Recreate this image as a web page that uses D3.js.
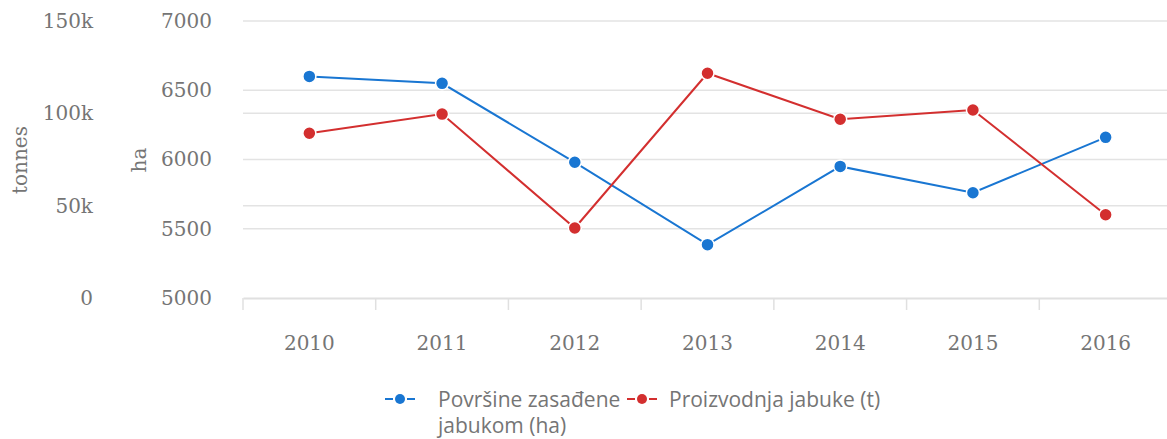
<!DOCTYPE html>
<html>
<head>
<meta charset="utf-8">
<script src="https://cdn.jsdelivr.net/npm/d3@7"></script>
<style>
  body { margin: 0; background: #fff; }
  svg { display: block; }
</style>
</head>
<body>
<script>
var years = ["2010", "2011", "2012", "2013", "2014", "2015", "2016"];
var areaHa = [6600, 6550, 5980, 5385, 5950, 5760, 6160];
var prodT = [89200, 99600, 37900, 121700, 96800, 101800, 45100];
var haTicks = [5000, 5500, 6000, 6500, 7000];
var tTicks = [0, 50000, 100000, 150000];
var tLabels = ["0", "50k", "100k", "150k"];

var W = 1167, H = 439;
var plotTop = 21, plotBottom = 298, plotLeft = 243, plotRight = 1172;

var svg = d3.select("body").append("svg")
  .attr("width", W).attr("height", H);

var x = d3.scaleBand().domain(years).range([plotLeft, plotRight]);
var yHa = d3.scaleLinear().domain([5000, 7000]).range([plotBottom, plotTop]);
var yT = d3.scaleLinear().domain([0, 150000]).range([plotBottom, plotTop]);

var axisFont = "'DejaVu Serif', serif";
var grey = "#757575";

// gridlines
var grid = svg.append("g");
grid.selectAll(".gh").data(haTicks.slice(1)).enter().append("line")
  .attr("x1", plotLeft).attr("x2", W)
  .attr("y1", d => yHa(d)).attr("y2", d => yHa(d))
  .attr("stroke", "#e3e3e3").attr("stroke-width", 1.5);
grid.selectAll(".gt").data(tTicks.slice(1, 3)).enter().append("line")
  .attr("x1", plotLeft).attr("x2", W)
  .attr("y1", d => yT(d)).attr("y2", d => yT(d))
  .attr("stroke", "#e3e3e3").attr("stroke-width", 1.5);

// x axis
var xAxis = svg.append("g").attr("transform", "translate(0," + plotBottom + ")")
  .call(d3.axisBottom(x).tickSize(0).tickPadding(38));
xAxis.select(".domain").attr("stroke", "#e0e0e0").attr("stroke-width", 2);
xAxis.selectAll(".sep").data(years.concat(["end"])).enter().append("line")
  .attr("x1", (d, i) => plotLeft + i * x.step()).attr("x2", (d, i) => plotLeft + i * x.step())
  .attr("y1", 0).attr("y2", 12)
  .attr("stroke", "#e0e0e0").attr("stroke-width", 1.5);

// left axes
var haAxis = svg.append("g").attr("transform", "translate(212,0)")
  .call(d3.axisLeft(yHa).tickValues(haTicks).tickSize(0).tickPadding(0)
    .tickFormat(d3.format("d")));
haAxis.select(".domain").remove();
var tAxis = svg.append("g").attr("transform", "translate(93,0)")
  .call(d3.axisLeft(yT).tickValues(tTicks).tickSize(0).tickPadding(0)
    .tickFormat((d, i) => tLabels[i]));
tAxis.select(".domain").remove();
svg.selectAll(".tick text")
  .attr("fill", grey).style("font-family", axisFont).style("font-size", "20px");

svg.append("text").attr("transform", "translate(146,160) rotate(-90)")
  .attr("text-anchor", "middle").attr("fill", grey)
  .style("font-family", axisFont).style("font-size", "20px").text("ha");
svg.append("text").attr("transform", "translate(27,160) rotate(-90)")
  .attr("text-anchor", "middle").attr("fill", grey)
  .style("font-family", axisFont).style("font-size", "20px").text("tonnes");

// series
var cx = d => x(d) + x.bandwidth() / 2;
var series = [
  { vals: areaHa, y: yHa, color: "#1976d2" },
  { vals: prodT, y: yT, color: "#d32f2f" }
];
series.forEach(function (s) {
  var line = d3.line().x((d, i) => cx(years[i])).y(d => s.y(d));
  svg.append("path").datum(s.vals).attr("d", line)
    .attr("fill", "none").attr("stroke", s.color).attr("stroke-width", 2);
  svg.selectAll(null).data(s.vals).enter().append("circle")
    .attr("cx", (d, i) => cx(years[i])).attr("cy", d => s.y(d)).attr("r", 6.5)
    .attr("fill", s.color).attr("stroke", "#fff").attr("stroke-width", 1.5);
});

// legend
var legFont = "'Open Sans', sans-serif";
var legend = [
  { x: 385, tx: 53, color: "#1976d2", lines: ["Površine zasađene", "jabukom (ha)"] },
  { x: 627, tx: 42, color: "#d32f2f", lines: ["Proizvodnja jabuke (t)"] }
];
legend.forEach(function (l) {
  var g = svg.append("g").attr("transform", "translate(" + l.x + ",399)");
  g.append("line").attr("x1", 0).attr("x2", 8).attr("stroke", l.color).attr("stroke-width", 2);
  g.append("line").attr("x1", 22).attr("x2", 30).attr("stroke", l.color).attr("stroke-width", 2);
  g.append("circle").attr("cx", 15).attr("r", 5).attr("fill", l.color);
  var t = g.append("text").attr("x", l.tx).attr("y", 8).attr("fill", grey)
    .style("font-family", legFont).style("font-size", "21px");
  l.lines.forEach(function (s, i) {
    t.append("tspan").attr("x", l.tx).attr("dy", i ? 26 : 0).text(s);
  });
});
</script>
</body>
</html>
